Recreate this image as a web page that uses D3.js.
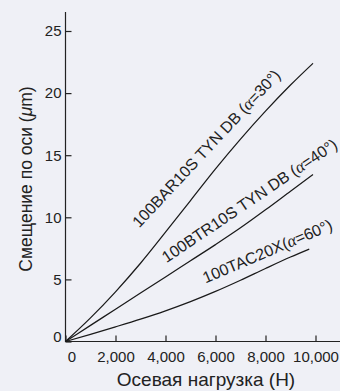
<!DOCTYPE html>
<html>
<head>
<meta charset="utf-8">
<script src="https://cdn.jsdelivr.net/npm/d3@7/dist/d3.min.js"></script>
<style>
  html, body { margin: 0; padding: 0; background: #eff0f6; }
  svg { display: block; }
  text { font-family: "Liberation Sans", Arial, Helvetica, sans-serif; fill: #222; }
</style>
</head>
<body>
<svg id="chart" width="340" height="391"></svg>
<script>
// Axial load (N) at which each displacement value is given
const loads = [0, 1000, 2000, 3000, 4000, 5000, 6000, 7000, 8000, 9000, 9900];

// Axial displacement (µm) for each bearing arrangement
const bar30 = [0, 1.9, 4.0, 6.3, 8.8, 11.35, 13.9, 16.3, 18.55, 20.65, 22.4];
const btr40 = [0, 1.3, 2.6, 3.9, 5.2, 6.5, 7.8, 9.15, 10.6, 12.1, 13.45];
const tacLoads = [0, 1000, 2000, 3000, 4000, 5000, 6000, 7000, 8000, 9000, 9750];
const tac60 = [0, 0.58, 1.18, 1.8, 2.47, 3.21, 4.03, 4.93, 5.88, 6.8, 7.44];

const xTicks = [0, 2000, 4000, 6000, 8000, 10000];
const yTicks = [0, 5, 10, 15, 20, 25];

// Curve captions: name, angle value, anchor point in data units, rotation
const captionNames = ["100BAR10S TYN DB (", "100BTR10S TYN DB (", "100TAC20X("];
const captionAngles = ["=30°)", "=40°)", "=60°)"];
const captionLoads = [2950, 4040, 5600];
const captionValues = [9.1, 6.3, 4.67];
const captionRotations = [-47, -34, -23];

const svg = d3.select("#chart");

const x = d3.scaleLinear().domain([0, 11000]).range([65.5, 340.5]);
const y = d3.scaleLinear().domain([0, 25]).range([341.5, 31]);

// Axes: ticks point inward
const xAxis = d3.axisBottom(x).tickValues(xTicks).tickSize(-6).tickPadding(9.5)
  .tickFormat(d => d3.format(",")(d));
const yAxis = d3.axisLeft(y).tickValues(yTicks).tickSize(-6).tickPadding(4)
  .tickFormat(d3.format("d"));

const gx = svg.append("g").attr("transform", "translate(0,341.5)").call(xAxis);
const gy = svg.append("g").attr("transform", "translate(65.5,0)").call(yAxis);

[gx, gy].forEach(g => {
  g.select(".domain").remove();
  g.selectAll(".tick line").attr("stroke", "#222").attr("stroke-width", 1.2);
  g.selectAll(".tick text").attr("font-size", 15)
    .attr("font-family", "Liberation Sans, Arial, sans-serif").attr("fill", "#222");
});
// Nudge the two zero labels away from the corner
gx.selectAll(".tick").filter(d => d === 0).select("text").attr("dx", 6);
gy.selectAll(".tick").filter(d => d === 0).select("text").attr("y", -5);

// Axis lines
svg.append("line").attr("x1", 65.5).attr("x2", 65.5).attr("y1", 12).attr("y2", 342)
  .attr("stroke", "#222").attr("stroke-width", 1.2);
svg.append("line").attr("x1", 65).attr("x2", 340).attr("y1", 341.5).attr("y2", 341.5)
  .attr("stroke", "#222").attr("stroke-width", 1.2);

// Curves
const line = d3.line().x(d => x(d[0])).y(d => y(d[1])).curve(d3.curveMonotoneX);
const series = [
  d3.zip(loads, bar30),
  d3.zip(loads, btr40),
  d3.zip(tacLoads, tac60)
];
svg.append("g").selectAll("path").data(series).join("path")
  .attr("d", line)
  .attr("fill", "none")
  .attr("stroke", "#1a1a1a")
  .attr("stroke-width", 1.25);

// Curve captions
captionNames.forEach((name, i) => {
  const t = svg.append("text")
    .attr("transform", `translate(${x(captionLoads[i])},${y(captionValues[i])}) rotate(${captionRotations[i]})`)
    .attr("font-size", 16);
  t.append("tspan").text(name);
  t.append("tspan").attr("font-family", "Liberation Serif, Times New Roman, serif")
    .attr("font-style", "italic").attr("font-size", 17).text("α");
  t.append("tspan").text(captionAngles[i]);
});

// Axis titles
svg.append("text").attr("x", 206).attr("y", 386).attr("text-anchor", "middle")
  .attr("font-size", 19).text("Осевая нагрузка (Н)");

const yt = svg.append("text").attr("transform", "translate(32,179) rotate(-90)")
  .attr("text-anchor", "middle").attr("font-size", 17.5);
yt.append("tspan").text("Смещение по оси (");
yt.append("tspan").attr("font-style", "italic").text("μ");
yt.append("tspan").text("m)");
</script>
</body>
</html>
